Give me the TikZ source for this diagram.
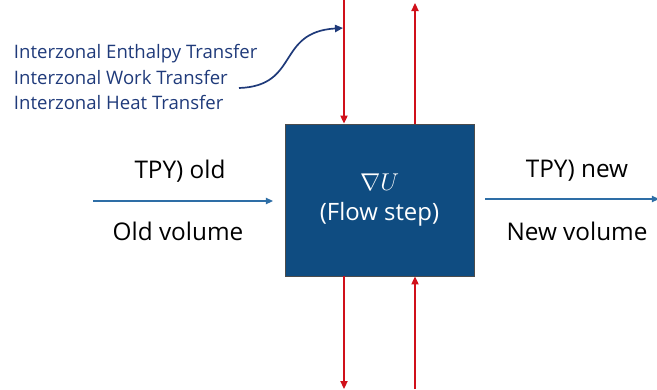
\documentclass[tikz,border=0pt]{standalone}
\usepackage{fontspec}
\setmainfont{Open Sans}
\setsansfont{Open Sans}
\usetikzlibrary{arrows.meta, positioning, calc}
\definecolor{cbox}{HTML}{0F4C81}
\definecolor{cnavy}{HTML}{1F3A7A}
\definecolor{cred}{HTML}{D0101A}
\definecolor{cline}{HTML}{2E6EA6}
\tikzset{
  every picture/.style={font=\sffamily},
  flowbox/.style={draw=black!70, fill=cbox, text=white, minimum width=4.72cm, minimum height=3.8cm, align=center, line width=0.6pt},
  redarrow/.style={-{Triangle[length=2mm, width=1.8mm]}, draw=cred, line width=1pt},
  bluearrow/.style={-{Triangle[length=1.8mm, width=1.6mm]}, draw=cline, line width=0.9pt},
  navyarrow/.style={-{Triangle[length=2mm, width=1.8mm]}, draw=cnavy, line width=1.2pt},
  statelabel/.style={font=\sffamily\fontsize{17.3}{20}\selectfont, text=black},
  transfer/.style={font=\sffamily\fontsize{13.2}{17.8}\selectfont, text=cnavy, align=left, anchor=west},
}
\begin{document}
\begin{tikzpicture}[x=0.025cm, y=-0.025cm]
  \useasboundingbox (0,0) rectangle (657,389);
  % flow step box
  \node[flowbox] (flow) at (379.5,200) {\fontsize{18}{21}\selectfont$\nabla U$\\[7pt]\fontsize{17}{21}\selectfont(Flow step)};
  % red vertical arrows
  \coordinate (topin) at (344,0);
  \coordinate (topout) at (415,3);
  \coordinate (botout) at (344,389);
  \coordinate (botin) at (415,389);
  \draw[redarrow] (topin) -- (topin |- flow.north);
  \draw[redarrow] (topout |- flow.north) -- (topout);
  \draw[redarrow] (botout |- flow.south) -- (botout);
  \draw[redarrow] (botin) -- (botin |- flow.south);
  % old and new state
  \coordinate (oldstart) at (93,201);
  \coordinate (oldend) at (273,201);
  \draw[bluearrow] (oldstart) -- (oldend);
  \node[statelabel] (oldtpy) at (180,171) {TPY) old};
  \node[statelabel] (oldvol) at (178,231) {Old volume};
  \coordinate (newstart) at (485,199);
  \coordinate (newend) at (659,199);
  \draw[bluearrow] (newstart) -- (newend);
  \node[statelabel] (newtpy) at (577,171) {TPY) new};
  \node[statelabel] (newvol) at (577,231) {New volume};
  % interzonal transfers
  \node[transfer] (transfers) at (9,77) {Interzonal Enthalpy Transfer\\Interzonal Work Transfer\\Interzonal Heat Transfer};
  \coordinate (curvestart) at (239,88);
  \coordinate (curveend) at (343,28);
  \draw[navyarrow] (curvestart) .. controls (300,86) and (276,32) .. (curveend);
\end{tikzpicture}
\end{document}
